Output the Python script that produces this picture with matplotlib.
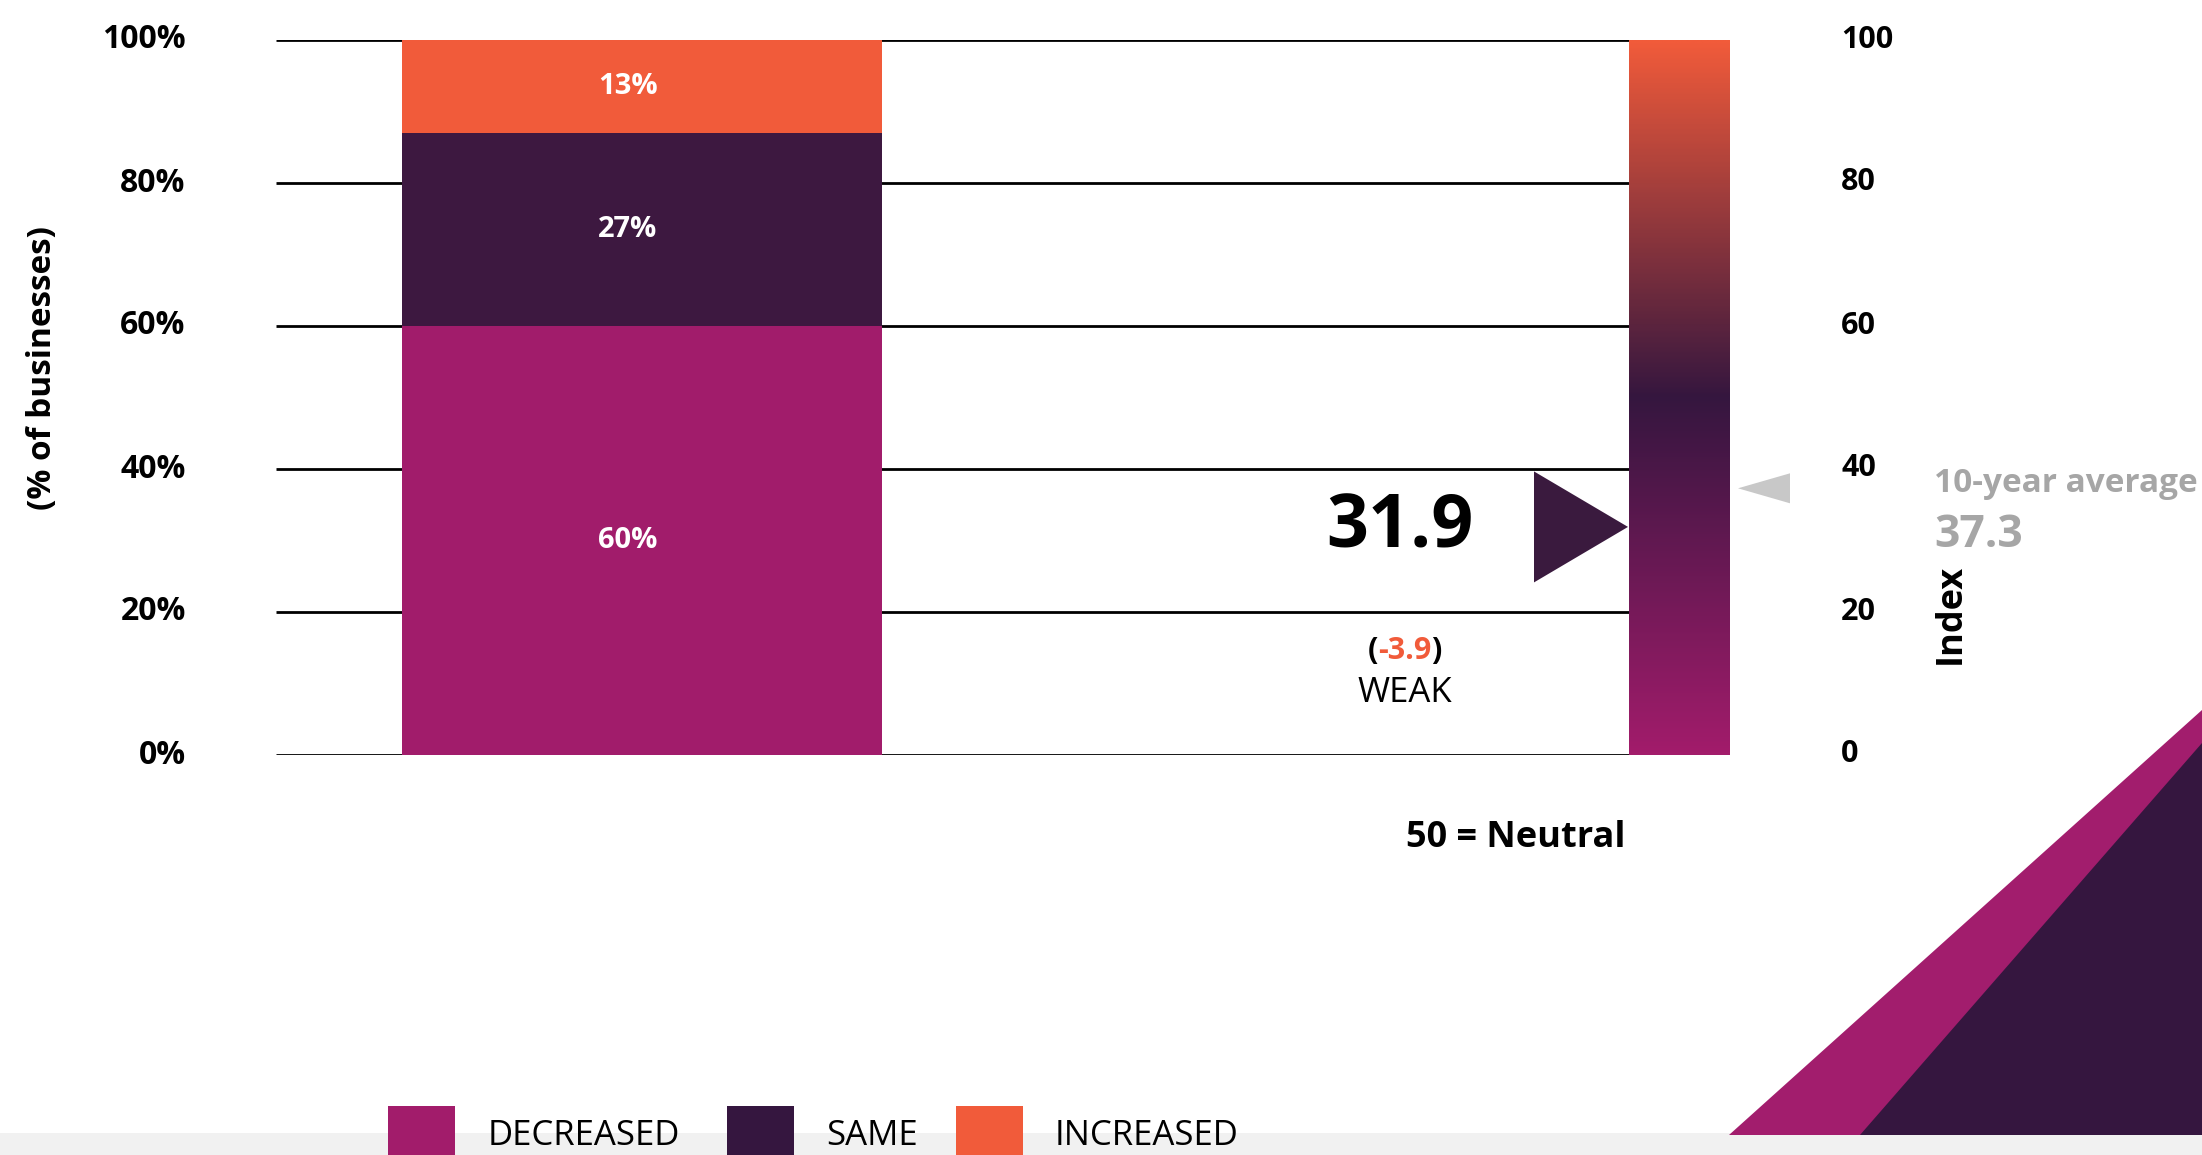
import numpy as np
import matplotlib
matplotlib.use("Agg")
import matplotlib.pyplot as plt
from matplotlib.patches import Polygon, Rectangle
from matplotlib.colors import LinearSegmentedColormap
from matplotlib.transforms import ScaledTranslation

# ---- data ----
categories = ["DECREASED", "SAME", "INCREASED"]
shares = [60, 27, 13]
share_labels = ["60%", "27%", "13%"]
pct_ticks = [0, 20, 40, 60, 80, 100]
pct_tick_labels = ["0%", "20%", "40%", "60%", "80%", "100%"]
index_ticks = [0, 20, 40, 60, 80, 100]
index_tick_labels = ["0", "20", "40", "60", "80", "100"]
index_value = 31.9
index_change = -3.9
index_rating = "WEAK"
ten_year_average = 37.3
neutral_level = 50

# ---- style ----
MAGENTA = "#A11C6B"
PLUM = "#3D1840"
ORANGE = "#F15B3A"
seg_colors = [MAGENTA, PLUM, ORANGE]
legend_colors = ["#A21C6B", "#35163F", "#F15B3A"]
GREY = "#A6A6A6"

plt.rcParams["font.family"] = ["Open Sans", "DejaVu Sans"]

W, H, DPI = 2202, 1155, 100
fig = plt.figure(figsize=(W / DPI, H / DPI), dpi=DPI)
fig.patch.set_facecolor("white")


def fx(px):
    return px / W


def fy(py):
    return 1 - py / H


# main axes: x measured in canvas pixels, y in percent / index points
ax_left, ax_right = 276, 1730
y_top, y_bot = 40, 755
ax = fig.add_axes([fx(ax_left), fy(y_bot), (ax_right - ax_left) / W, (y_bot - y_top) / H])
ax.set_facecolor("none")

grid_end = 1629
ax.hlines(pct_ticks, ax_left, grid_end, color="black", lw=2.0, zorder=1)

# stacked bar
bar_x, bar_w = 642, 480
label_x = 628
bottom = 0
for val, lab, col in zip(shares, share_labels, seg_colors):
    ax.bar(bar_x, val, width=bar_w, bottom=bottom, color=col, zorder=2, linewidth=0)
    ax.text(label_x, bottom + val / 2, lab, ha="center", va="center", color="white",
            fontsize=21, fontweight="bold", zorder=3)
    bottom += val

# index colour scale
scale_cmap = LinearSegmentedColormap.from_list(
    "index_scale", [(0.0, "#A21C6B"), (0.5, "#35163F"), (1.0, "#F15B3A")])
grad = np.linspace(0, 100, 400).reshape(-1, 1)
ax.imshow(grad, extent=(grid_end, ax_right, 0, 100), origin="lower",
          cmap=scale_cmap, aspect="auto", zorder=2)

# current index pointer
ppu = (y_bot - y_top) / 100.0
half = 55.5 / ppu
ax.add_patch(Polygon([(1534, index_value + half), (1534, index_value - half),
                      (1628, index_value)], closed=True, color="#3A1A3E", zorder=3, lw=0))
# ten-year average pointer
half_g = 15 / ppu
ax.add_patch(Polygon([(1790, ten_year_average + half_g), (1790, ten_year_average - half_g),
                      (1738, ten_year_average)], closed=True, color="#C8C8C8", zorder=3,
                     lw=0, clip_on=False))

ax.set_xlim(ax_left, ax_right)
ax.set_ylim(0, 100)
ax.set_xticks([])
ax.set_yticks(pct_ticks, pct_tick_labels)
ax.tick_params(axis="y", length=0, pad=65, labelsize=23)
lift = ScaledTranslation(0, 4 / 100, fig.dpi_scale_trans)
for t in ax.get_yticklabels():
    t.set_fontweight("bold")
    t.set_transform(t.get_transform() + lift)
for s in ax.spines.values():
    s.set_visible(False)

ax2 = ax.twinx()
ax2.set_ylim(0, 100)
ax2.set_yticks(index_ticks, index_tick_labels)
ax2.tick_params(axis="y", length=0, pad=80, labelsize=22)
for t in ax2.get_yticklabels():
    t.set_fontweight("bold")
    t.set_transform(t.get_transform() + lift)
for s in ax2.spines.values():
    s.set_visible(False)

# axis titles
fig.text(fx(43), fy(368), "(% of businesses)", rotation=90, ha="center", va="center",
         fontsize=24, fontweight="bold")
fig.text(fx(1951), fy(614), "Index", rotation=90, ha="center", va="center",
         fontsize=26, fontweight="bold")

# index reading
fig.text(fx(1400), fy(547), f"{index_value}", ha="center", va="baseline",
         fontsize=53, fontweight="bold", color="black")
chg = fig.text(fx(1405), fy(659), f"{index_change:.1f}", ha="center", va="baseline",
               fontsize=22, fontweight="bold", color=ORANGE)
fig.canvas.draw()
bb = chg.get_window_extent()
fig.text(bb.x0 / W, fy(659), "(", ha="right", va="baseline", fontsize=22, fontweight="bold")
fig.text(bb.x1 / W, fy(659), ")", ha="left", va="baseline", fontsize=22, fontweight="bold")
fig.text(fx(1405), fy(702), index_rating, ha="center", va="baseline", fontsize=25)

fig.text(fx(1626), fy(847), f"{neutral_level} = Neutral", ha="right", va="baseline",
         fontsize=26, fontweight="bold")

fig.text(fx(1934), fy(492), "10-year average", ha="left", va="baseline",
         fontsize=24, fontweight="bold", color=GREY)
fig.text(fx(1934), fy(547), f"{ten_year_average}", ha="left", va="baseline",
         fontsize=32, fontweight="bold", color=GREY)

# footer band
fig.add_artist(Rectangle((0, 0), 1, (H - 1133) / H, transform=fig.transFigure,
                         color="#F1F1F1", lw=0, zorder=1))

# decorative corner triangles
fig.add_artist(Polygon([(fx(1729), fy(1135)), (fx(2202), fy(710)), (fx(2202), fy(1135))],
                       closed=True, transform=fig.transFigure, color="#A21D6D", lw=0, zorder=2))
fig.add_artist(Polygon([(fx(1860), fy(1135)), (fx(2202), fy(743)), (fx(2202), fy(1135))],
                       closed=True, transform=fig.transFigure, color="#35163F", lw=0, zorder=2))

# legend
sq_x = [388, 727, 956]
txt_x = [488, 826, 1055]
for name, col, sx, tx in zip(categories, legend_colors, sq_x, txt_x):
    fig.add_artist(Rectangle((fx(sx), 0), 67 / W, (H - 1106) / H, transform=fig.transFigure,
                             color=col, lw=0, zorder=3))
    fig.text(fx(tx), fy(1136), name, ha="left", va="center", fontsize=25, zorder=4)

fig.savefig("out.png", dpi=DPI, facecolor="white")
